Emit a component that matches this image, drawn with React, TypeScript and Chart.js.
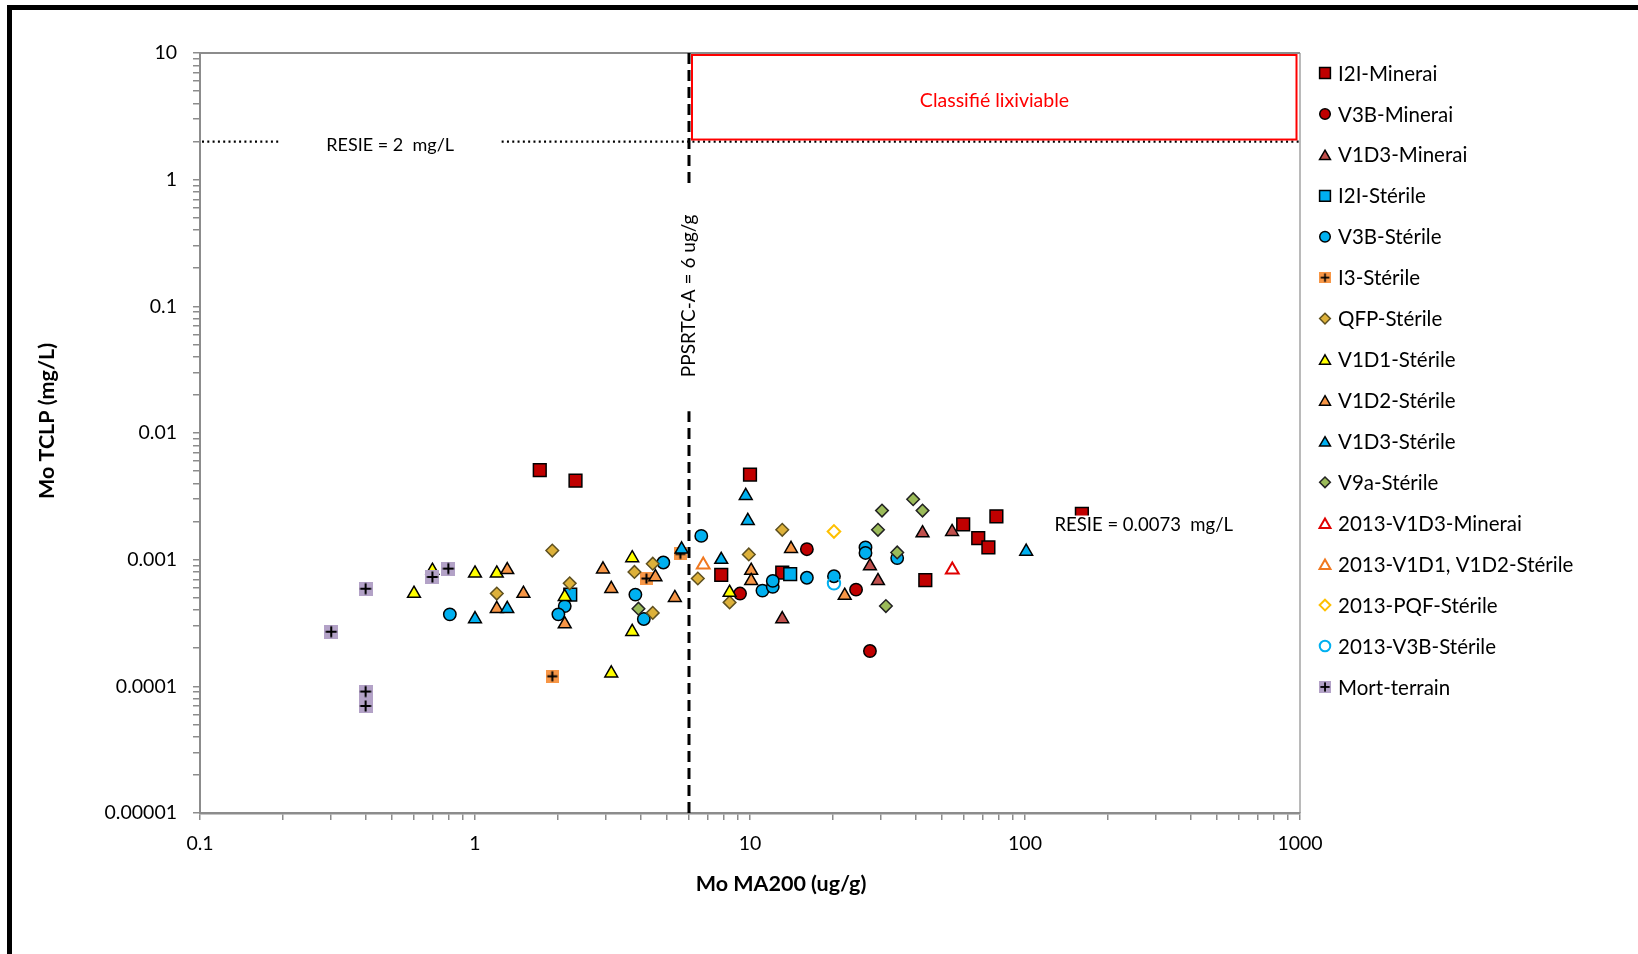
import React, { useEffect, useRef } from 'react';
import { Chart, registerables } from 'chart.js';

Chart.register(...registerables);

const FONT = 'Lato, "Open Sans", sans-serif';
const W = 1638;
const H = 954;

// Series names, in legend order
const seriesNames = [
  'I2I-Minerai',
  'V3B-Minerai',
  'V1D3-Minerai',
  'I2I-Stérile',
  'V3B-Stérile',
  'I3-Stérile',
  'QFP-Stérile',
  'V1D1-Stérile',
  'V1D2-Stérile',
  'V1D3-Stérile',
  'V9a-Stérile',
  '2013-V1D3-Minerai',
  '2013-V1D1, V1D2-Stérile',
  '2013-PQF-Stérile',
  '2013-V3B-Stérile',
  'Mort-terrain',
];

// Mo MA200 (ug/g) and Mo TCLP (mg/L) per series
const i2iMineraiX = [1.72, 2.32, 7.86, 10.0, 13.1, 43.4, 59.6, 67.6, 73.6, 78.7, 161];
const i2iMineraiY = [0.0051, 0.0042, 0.00076, 0.0047, 0.00079, 0.00069, 0.0019, 0.00148, 0.00125, 0.0022, 0.0023];

const v3bMineraiX = [9.2, 16.1, 24.3, 27.3];
const v3bMineraiY = [0.00054, 0.00121, 0.00058, 0.00019];

const v1d3MineraiX = [13.1, 27.3, 29.2, 42.4, 54.3];
const v1d3MineraiY = [0.00034, 0.00089, 0.00068, 0.00162, 0.00166];

const i2iSterileX = [2.22, 14.0];
const i2iSterileY = [0.00053, 0.00077];

const v3bSterileX = [0.81, 2.12, 2.01, 3.83, 4.11, 4.84, 6.65, 11.1, 12.1, 12.1, 16.1, 20.2, 26.3, 26.3, 34.3];
const v3bSterileY = [0.00037, 0.00043, 0.00037, 0.00053, 0.00034, 0.00095, 0.00154, 0.00057, 0.00061, 0.00068, 0.00072, 0.00074, 0.00125, 0.00113, 0.00103];

const i3SterileX = [1.91, 4.2, 5.58];
const i3SterileY = [0.00012, 0.00071, 0.00111];

const qfpSterileX = [1.2, 1.91, 2.21, 3.8, 4.43, 4.43, 6.46, 8.43, 9.9, 13.1];
const qfpSterileY = [0.00054, 0.00118, 0.00065, 0.0008, 0.00038, 0.00093, 0.00071, 0.00046, 0.0011, 0.00172];

const v1d1SterileX = [0.6, 0.7, 1.0, 1.2, 2.12, 3.13, 3.73, 3.73, 8.43];
const v1d1SterileY = [0.00054, 0.00082, 0.00078, 0.00078, 0.00051, 0.000127, 0.00103, 0.00027, 0.00055];

const v1d2SterileX = [1.2, 1.31, 1.5, 2.12, 2.92, 3.13, 4.53, 5.33, 10.1, 10.1, 14.1, 22.1];
const v1d2SterileY = [0.00041, 0.00083, 0.00054, 0.00031, 0.00084, 0.00059, 0.00073, 0.0005, 0.00082, 0.00068, 0.00122, 0.00052];

const v1d3SterileX = [1.0, 1.31, 5.64, 7.86, 9.65, 9.82, 101];
const v1d3SterileY = [0.00034, 0.00041, 0.00121, 0.001, 0.0032, 0.00203, 0.00116];

const v9aSterileX = [3.93, 29.2, 30.2, 31.2, 34.3, 39.2, 42.4];
const v9aSterileY = [0.00041, 0.00172, 0.00244, 0.00043, 0.00114, 0.003, 0.00244];

const v1d3Minerai2013X = [54.4];
const v1d3Minerai2013Y = [0.00083];

const v1d1v1d2Sterile2013X = [6.76];
const v1d1v1d2Sterile2013Y = [0.00091];

const pqfSterile2013X = [20.2];
const pqfSterile2013Y = [0.00167];

const v3bSterile2013X = [20.2];
const v3bSterile2013Y = [0.00065];

const mortTerrainX = [0.3, 0.4, 0.4, 0.4, 0.7, 0.8];
const mortTerrainY = [0.00027, 0.00059, 0.000091, 0.00007, 0.00073, 0.00085];

// Axis decades and their labels
const xTickLabels = ['0.1', '1', '10', '100', '1000'];
const yTickLabels = ['0.00001', '0.0001', '0.001', '0.01', '0.1', '1', '10'];
const xMinExp = -1;
const yMinExp = -5;

// Regulatory thresholds
const resieTclp = 2; // mg/L
const resieLabelY = 0.00186;
const resieLabelX = 128;
const ppsrtcA = 6; // ug/g

function crossSquare(fill: string, size: number): HTMLCanvasElement {
  const c = document.createElement('canvas');
  c.width = size;
  c.height = size;
  const g = c.getContext('2d')!;
  g.fillStyle = fill;
  g.fillRect(0, 0, size, size);
  g.strokeStyle = '#000';
  g.lineWidth = 2;
  g.beginPath();
  g.moveTo(size / 2, 1.5);
  g.lineTo(size / 2, size - 1.5);
  g.moveTo(1.5, size / 2);
  g.lineTo(size - 1.5, size / 2);
  g.stroke();
  return c;
}

function decadeTicks(minExp: number, maxExp: number) {
  const out: { value: number }[] = [];
  for (let e = minExp; e < maxExp; e++) {
    for (let m = 1; m <= 9; m++) out.push({ value: Number((m * Math.pow(10, e)).toPrecision(3)) });
  }
  out.push({ value: Math.pow(10, maxExp) });
  return out;
}

function decadeLabel(value: number, labels: string[], minExp: number) {
  const e = Math.log10(value);
  const r = Math.round(e);
  if (Math.abs(e - r) > 1e-6) return '';
  return labels[r - minExp] ?? '';
}

function drawMarker(ctx: CanvasRenderingContext2D, ds: any, x: number, y: number, k: number) {
  const style = ds.pointStyle;
  ctx.save();
  if (style instanceof HTMLCanvasElement) {
    const w = style.width * k;
    const h = style.height * k;
    ctx.drawImage(style, x - w / 2, y - h / 2, w, h);
    ctx.restore();
    return;
  }
  const r = ds.pointRadius * k;
  ctx.fillStyle = ds.backgroundColor;
  ctx.strokeStyle = ds.borderColor;
  ctx.lineWidth = ds.borderWidth;
  ctx.beginPath();
  if (style === 'circle') {
    ctx.arc(x, y, r, 0, Math.PI * 2);
  } else if (style === 'rect') {
    const s = r * Math.SQRT1_2;
    ctx.rect(x - s, y - s, 2 * s, 2 * s);
  } else if (style === 'triangle') {
    const yc = y + r * 0.25;
    ctx.moveTo(x, yc - r);
    ctx.lineTo(x + r * Math.sin((2 * Math.PI) / 3), yc + r * 0.5);
    ctx.lineTo(x - r * Math.sin((2 * Math.PI) / 3), yc + r * 0.5);
  } else if (style === 'rectRot') {
    ctx.moveTo(x, y - r);
    ctx.lineTo(x + r, y);
    ctx.lineTo(x, y + r);
    ctx.lineTo(x - r, y);
  }
  ctx.closePath();
  ctx.fill();
  ctx.stroke();
  ctx.restore();
}

const annotations = {
  id: 'annotations',
  beforeDraw(chart: any) {
    const { ctx } = chart;
    ctx.save();
    ctx.fillStyle = '#000';
    ctx.fillRect(7, 5, W - 7, 5);
    ctx.fillRect(7, 5, 5, H - 5);
    ctx.restore();
  },
  beforeDatasetsDraw(chart: any) {
    const { ctx, chartArea: a, scales } = chart;
    const xs = scales.x;
    const ys = scales.y;
    ctx.save();

    // plot frame (top and right edges)
    ctx.strokeStyle = '#8c8c8c';
    ctx.lineWidth = 2;
    ctx.beginPath();
    ctx.moveTo(a.left, a.top);
    ctx.lineTo(a.right, a.top);
    ctx.stroke();
    ctx.lineWidth = 1.2;
    ctx.beginPath();
    ctx.moveTo(a.right, a.top);
    ctx.lineTo(a.right, a.bottom);
    ctx.stroke();

    // RESIE 2 mg/L dotted line, broken around its label
    const yR = ys.getPixelForValue(resieTclp);
    const gapL = xs.getPixelForValue(0.196);
    const gapR = xs.getPixelForValue(1.25);
    ctx.strokeStyle = '#000';
    ctx.lineWidth = 2.2;
    ctx.setLineDash([2, 3.3]);
    ctx.beginPath();
    ctx.moveTo(a.left + 2, yR);
    ctx.lineTo(gapL, yR);
    ctx.moveTo(gapR, yR);
    ctx.lineTo(a.right, yR);
    ctx.stroke();

    ctx.setLineDash([]);
    ctx.font = `18px ${FONT}`;
    ctx.fillStyle = '#000';
    ctx.textAlign = 'left';
    ctx.textBaseline = 'middle';
    ctx.fillText('RESIE = 2  mg/L', xs.getPixelForValue(0.288), yR + 4);

    // Leachable zone box
    const xP = xs.getPixelForValue(ppsrtcA);
    ctx.strokeStyle = '#ff0000';
    ctx.lineWidth = 2;
    ctx.strokeRect(xP + 3, a.top + 2, a.right - 3.5 - (xP + 3), yR - 2 - (a.top + 2));
    ctx.fillStyle = '#ff0000';
    ctx.textAlign = 'center';
    ctx.font = `19.5px ${FONT}`;
    ctx.fillText('Classifié lixiviable', (xP + a.right) / 2, (a.top + yR) / 2 + 3);

    // PPSRTC-A dashed line with vertical label
    const label = 'PPSRTC-A = 6 ug/g';
    ctx.font = `19px ${FONT}`;
    const tw = ctx.measureText(label).width;
    const yMid = ys.getPixelForValue(0.121);
    ctx.strokeStyle = '#000';
    ctx.lineWidth = 3;
    ctx.setLineDash([11, 6]);
    ctx.beginPath();
    ctx.moveTo(xP, a.top);
    ctx.lineTo(xP, yMid - tw / 2 - 27);
    ctx.stroke();
    ctx.beginPath();
    ctx.moveTo(xP, a.bottom);
    ctx.lineTo(xP, yMid + tw / 2 + 34);
    ctx.stroke();
    ctx.setLineDash([]);
    ctx.save();
    ctx.translate(xP, yMid);
    ctx.rotate(-Math.PI / 2);
    ctx.fillStyle = '#000';
    ctx.textAlign = 'center';
    ctx.textBaseline = 'middle';
    ctx.fillText(label, 0, 0);
    ctx.restore();
    ctx.restore();
  },
  afterDatasetsDraw(chart: any) {
    const { ctx, scales } = chart;
    // RESIE 0.0073 mg/L label on an opaque box
    const lx = scales.x.getPixelForValue(resieLabelX);
    const ly = scales.y.getPixelForValue(resieLabelY);
    const text = 'RESIE = 0.0073  mg/L';
    ctx.save();
    ctx.font = `18.5px ${FONT}`;
    const tw = ctx.measureText(text).width;
    ctx.fillStyle = '#fff';
    ctx.fillRect(lx - 4, ly - 10, tw + 8, 21);
    ctx.fillStyle = '#000';
    ctx.textAlign = 'left';
    ctx.textBaseline = 'middle';
    ctx.fillText(text, lx, ly);
    ctx.restore();
  },
  afterDraw(chart: any) {
    const { ctx } = chart;
    ctx.save();
    // axis titles
    ctx.fillStyle = '#000';
    ctx.font = `bold 21.5px ${FONT}`;
    ctx.textAlign = 'center';
    ctx.textBaseline = 'middle';
    ctx.fillText('Mo MA200 (ug/g)', 781, 884);
    ctx.save();
    ctx.translate(47, 421);
    ctx.rotate(-Math.PI / 2);
    ctx.fillText('Mo TCLP (mg/L)', 0, 0);
    ctx.restore();

    // legend
    ctx.font = `20.5px ${FONT}`;
    ctx.textAlign = 'left';
    chart.data.datasets.forEach((ds: any, i: number) => {
      const y = 73 + i * 40.93;
      drawMarker(ctx, ds, 1325, y, 0.85);
      ctx.fillStyle = '#000';
      ctx.fillText(ds.label, 1338, y + 1);
    });
    ctx.restore();
  },
};

export default function App() {
  const ref = useRef<HTMLCanvasElement | null>(null);

  useEffect(() => {
    document.body.style.margin = '0';
    const i3Img = crossSquare('#F79646', 13);
    const mortImg = crossSquare('#B3A2C7', 14);

    const series = [
      { x: i2iMineraiX, y: i2iMineraiY, style: 'rect', r: 9, fill: '#C00000', border: '#000', bw: 1.5 },
      { x: v3bMineraiX, y: v3bMineraiY, style: 'circle', r: 6.2, fill: '#C00000', border: '#000', bw: 1.5 },
      { x: v1d3MineraiX, y: v1d3MineraiY, style: 'triangle', r: 7.4, fill: '#C0504D', border: '#000', bw: 1.5 },
      { x: i2iSterileX, y: i2iSterileY, style: 'rect', r: 9, fill: '#00B0F0', border: '#000', bw: 1.5 },
      { x: v3bSterileX, y: v3bSterileY, style: 'circle', r: 6.2, fill: '#00B0F0', border: '#000', bw: 1.5 },
      { x: i3SterileX, y: i3SterileY, style: i3Img, r: 7, fill: '#F79646', border: '#F79646', bw: 0 },
      { x: qfpSterileX, y: qfpSterileY, style: 'rectRot', r: 6.3, fill: '#DDB13A', border: '#5e5020', bw: 1.5 },
      { x: v1d1SterileX, y: v1d1SterileY, style: 'triangle', r: 7.4, fill: '#FFFF00', border: '#000', bw: 1.5 },
      { x: v1d2SterileX, y: v1d2SterileY, style: 'triangle', r: 7.4, fill: '#F79646', border: '#000', bw: 1.5 },
      { x: v1d3SterileX, y: v1d3SterileY, style: 'triangle', r: 7.4, fill: '#00B0F0', border: '#000', bw: 1.5 },
      { x: v9aSterileX, y: v9aSterileY, style: 'rectRot', r: 6.3, fill: '#9BBB59', border: '#222', bw: 1.5 },
      { x: v1d3Minerai2013X, y: v1d3Minerai2013Y, style: 'triangle', r: 7.4, fill: 'rgba(255,255,255,0)', border: '#E00000', bw: 2 },
      { x: v1d1v1d2Sterile2013X, y: v1d1v1d2Sterile2013Y, style: 'triangle', r: 7.4, fill: 'rgba(255,255,255,0)', border: '#F07820', bw: 2 },
      { x: pqfSterile2013X, y: pqfSterile2013Y, style: 'rectRot', r: 6.3, fill: 'rgba(255,255,255,0)', border: '#FFC000', bw: 2 },
      { x: v3bSterile2013X, y: v3bSterile2013Y, style: 'circle', r: 6.2, fill: 'rgba(255,255,255,0)', border: '#00B0F0', bw: 2 },
      { x: mortTerrainX, y: mortTerrainY, style: mortImg, r: 7, fill: '#B3A2C7', border: '#B3A2C7', bw: 0 },
    ];

    const n = series.length;
    const datasets = series.map((s, i) => ({
      label: seriesNames[i],
      data: s.x.map((xv, j) => ({ x: xv, y: s.y[j] })),
      pointStyle: s.style as any,
      pointRadius: s.r,
      backgroundColor: s.fill,
      borderColor: s.border,
      borderWidth: s.bw,
      pointBackgroundColor: s.fill,
      pointBorderColor: s.border,
      pointBorderWidth: s.bw,
      showLine: false,
      order: n - i,
    }));

    const tickFont = { family: FONT, size: 19.5 };
    const chart = new Chart(ref.current!, {
      type: 'scatter',
      data: { datasets },
      plugins: [annotations],
      options: {
        responsive: false,
        animation: false,
        events: [],
        layout: { padding: { left: 0, top: 53, right: 338, bottom: 0 } },
        plugins: { legend: { display: false }, tooltip: { enabled: false } },
        scales: {
          x: {
            type: 'logarithmic',
            position: 'bottom',
            min: 0.1,
            max: 1000,
            afterBuildTicks: (s: any) => {
              s.ticks = decadeTicks(xMinExp, xMinExp + xTickLabels.length - 1);
            },
            afterFit: (s: any) => {
              s.height = H - 813;
            },
            grid: { drawOnChartArea: false, drawTicks: true, tickLength: 7, color: '#8c8c8c', lineWidth: 1.5 },
            border: { display: true, color: '#8c8c8c', width: 2.5 },
            ticks: {
              autoSkip: false,
              maxRotation: 0,
              padding: 12,
              color: '#000',
              font: tickFont,
              callback: (v: any) => decadeLabel(Number(v), xTickLabels, xMinExp),
            },
          },
          y: {
            type: 'logarithmic',
            position: 'left',
            min: 0.00001,
            max: 10,
            afterBuildTicks: (s: any) => {
              s.ticks = decadeTicks(yMinExp, yMinExp + yTickLabels.length - 1);
            },
            afterFit: (s: any) => {
              s.width = 200;
            },
            grid: { drawOnChartArea: false, drawTicks: true, tickLength: 7, color: '#8c8c8c', lineWidth: 1.5 },
            border: { display: true, color: '#8c8c8c', width: 2 },
            ticks: {
              autoSkip: false,
              padding: 16,
              color: '#000',
              font: tickFont,
              callback: (v: any) => decadeLabel(Number(v), yTickLabels, yMinExp),
            },
          },
        },
      },
    });
    return () => chart.destroy();
  }, []);

  return (
    <div style={{ position: 'absolute', left: 0, top: 0, width: W, height: H, background: '#fff' }}>
      <canvas ref={ref} width={W} height={H} style={{ display: 'block', width: W, height: H }} />
    </div>
  );
}
